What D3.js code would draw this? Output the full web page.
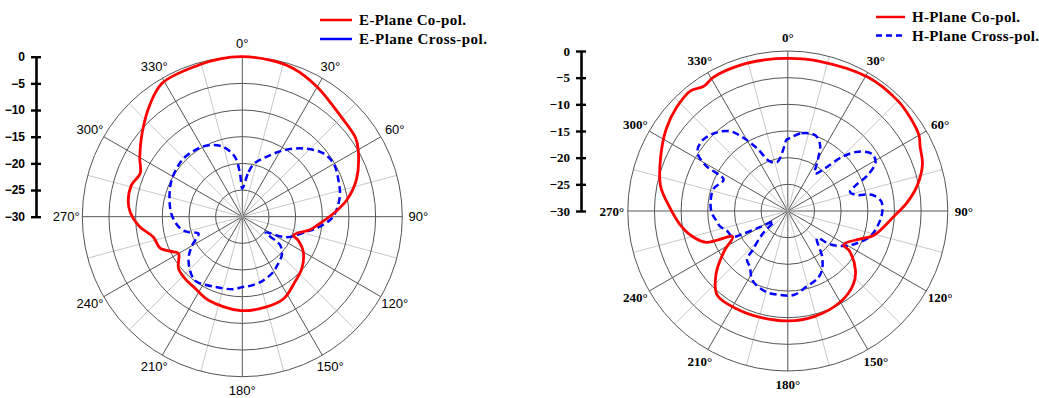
<!DOCTYPE html>
<html>
<head>
<meta charset="utf-8">
<script src="https://cdn.jsdelivr.net/npm/d3@7"></script>
<style>
  body { margin: 0; background: #fff; }
  svg { display: block; }
</style>
</head>
<body>
<svg id="chart"></svg>
<script>
// angles in degrees (clockwise from top), values in dB
const eCoAng = [0, 10, 19, 30, 44, 55, 60, 72, 81, 88, 97, 101, 110, 113, 120, 131, 141, 153, 165, 181, 202, 213, 223, 231, 240, 243, 249, 257, 265, 272, 278, 286, 293, 300, 310, 320, 329, 344, 352];
const eCoDb = [0, -0.2, -0.6, -1.9, -3.6, -4.1, -4.9, -7.5, -10.2, -12.9, -16, -17.1, -19.8, -18.6, -16.8, -15.2, -14.3, -12.8, -12.5, -12.4, -13.1, -13.9, -14.2, -14.6, -16.2, -15.5, -13.5, -12.9, -10.5, -9.0, -8.4, -8.4, -9.2, -7.8, -5.5, -2.9, -0.8, -0.4, -0.1];

const eXAng = [0, 8, 13, 22, 32, 42, 52, 60, 69, 78, 88, 92, 98, 103, 115, 124, 127, 134, 146, 151, 162, 172, 180, 187, 201, 215, 221, 232, 240, 249, 254, 259, 271, 283, 297, 313, 325, 335, 344, 353, 357];
const eXDb = [-24.7, -21.5, -19.7, -17.9, -15.3, -12.8, -10.7, -10.2, -10.7, -11.3, -12.6, -13.5, -15.6, -17.6, -20.9, -24.7, -21.1, -19.7, -18.6, -18.1, -17.4, -17, -16.8, -16.3, -15.9, -15.1, -15.5, -17.2, -19.1, -21.2, -19.5, -18.2, -16.8, -16.0, -15.1, -14.5, -14.7, -15.2, -16.3, -18.7, -22];

const hCoAng = [0, 12, 31, 45, 52, 60, 64, 71, 79, 86, 93, 106, 111, 121, 123, 131, 138, 150, 166, 180, 195, 208, 220, 229, 238, 245, 249, 255, 263, 272, 281, 293, 304, 313, 321, 326, 331, 342, 352];
const hCoDb = [-1.4, -1.3, -0.75, -0.8, -1.1, -1.6, -2.4, -3.3, -5.3, -7.6, -10.1, -13.3, -15.4, -17.8, -16.2, -13.2, -11.6, -10.3, -9.6, -9.4, -9.4, -9.3, -9.4, -12.2, -16, -18.6, -13.6, -11.5, -9.6, -7.8, -5.7, -4.1, -2.5, -1.5, -1.0, -1.8, -1.3, -1.25, -1.35];

const hXAng = [0, 10, 20, 26, 30, 36, 41, 45, 50, 56, 61, 66, 69, 73, 77, 79, 84, 91, 98, 107, 115, 122, 128, 133, 143, 150, 156, 166, 176, 185, 195, 207, 214, 220, 222, 228, 233, 240, 243, 245, 253, 257, 263, 269, 278, 287, 296, 299, 303, 309, 317, 324, 329, 334, 340, 348, 355, 359];
const hXDb = [-16.5, -15.2, -14.9, -16.2, -18.6, -21.3, -19.4, -15.7, -12.7, -10.9, -11.2, -13.7, -16.2, -17.8, -16.7, -14, -12.4, -12.3, -12.8, -13.8, -15.7, -17.6, -19.8, -22.5, -19.3, -17.2, -16.2, -15.4, -14.2, -14.2, -14.3, -15.4, -17.3, -18.1, -20.1, -23.7, -26.7, -23.9, -20.6, -18.6, -17.9, -17, -16.4, -15.7, -15.4, -15.5, -16.6, -12.4, -9.8, -9.2, -10, -11.5, -14.1, -17, -20.1, -20.6, -18.8, -16.6];

const ringDb = [-25, -20, -15, -10, -5, 0];
const spokeAngles = d3.range(0, 360, 15);
const angleLabels = d3.range(0, 360, 30);
const scaleTicks = [0, -5, -10, -15, -20, -25, -30];

const width = 1039;
const height = 398;
const R = 160;

const svg = d3.select("#chart")
    .attr("width", width)
    .attr("height", height);

const rScale = d3.scaleLinear().domain([-30, 0]).range([0, R]);
const rad = a => a * Math.PI / 180;

function zip(angs, vals) {
    return angs.map((a, i) => ({ a: a, v: vals[i] }));
}

function drawPolar(p) {
    const g = svg.append("g").attr("transform", `translate(${p.cx},${p.cy})`);

    // spokes, light every 15, dark every 30
    g.selectAll(".spoke")
        .data(spokeAngles)
        .enter()
        .append("line")
        .attr("x1", 0).attr("y1", 0)
        .attr("x2", d => R * Math.sin(rad(d)))
        .attr("y2", d => -R * Math.cos(rad(d)))
        .attr("stroke", d => d % 30 === 0 ? "#555" : "#c8c8c8")
        .attr("stroke-width", 1);

    // rings
    g.selectAll(".ring")
        .data(ringDb)
        .enter()
        .append("circle")
        .attr("r", d => rScale(d))
        .attr("fill", "none")
        .attr("stroke", "#555")
        .attr("stroke-width", 1);

    // angle labels
    g.selectAll(".alabel")
        .data(angleLabels)
        .enter()
        .append("text")
        .attr("x", d => 176 * Math.sin(rad(d)))
        .attr("y", d => -173.5 * Math.cos(rad(d)))
        .attr("text-anchor", "middle")
        .attr("dominant-baseline", "central")
        .attr("font-family", p.font)
        .attr("font-weight", p.labelWeight)
        .attr("font-size", 13)
        .text(d => d + "°");

    const line = d3.lineRadial()
        .angle(d => rad(d.a))
        .radius(d => rScale(d.v))
        .curve(d3.curveCatmullRomClosed.alpha(0.5));

    g.append("path")
        .datum(zip(p.xAng, p.xDb))
        .attr("d", line)
        .attr("fill", "none")
        .attr("stroke", "#0000ff")
        .attr("stroke-width", 2.5)
        .attr("stroke-dasharray", "7,4");

    g.append("path")
        .datum(zip(p.coAng, p.coDb))
        .attr("d", line)
        .attr("fill", "none")
        .attr("stroke", "#ff0000")
        .attr("stroke-width", 2.8);

    // dB scale bar
    const y = d3.scaleLinear().domain([-30, 0]).range([p.cy, p.cy - R]);
    const bar = svg.append("g").attr("transform", `translate(${p.barX},0)`);
    bar.call(d3.axisLeft(y).tickValues(scaleTicks).tickSize(0).tickSizeOuter(0).tickPadding(11));
    bar.select(".domain").attr("stroke", "#000").attr("stroke-width", 2.6);
    bar.selectAll(".tick line")
        .attr("x1", -5).attr("x2", 5)
        .attr("stroke", "#000").attr("stroke-width", 2.4);
    bar.selectAll(".tick text")
        .attr("font-family", p.font)
        .attr("font-weight", "bold")
        .attr("font-size", p.scaleSize)
        .attr("fill", "#000");

    // legend
    const lg = svg.append("g");
    const items = [
        { label: p.names[0], color: "#ff0000", dash: null, y: p.legY, w: p.legW[0] },
        { label: p.names[1], color: "#0000ff", dash: p.legDash, y: p.legY + p.legGap, w: p.legW[1] }
    ];
    items.forEach(it => {
        lg.append("line")
            .attr("x1", p.legX).attr("x2", p.legX + p.legLen)
            .attr("y1", it.y).attr("y2", it.y)
            .attr("stroke", it.color)
            .attr("stroke-width", 2.5)
            .attr("stroke-dasharray", it.dash);
        lg.append("text")
            .attr("x", p.legX + p.legLen + 7)
            .attr("y", it.y)
            .attr("dominant-baseline", "central")
            .attr("font-family", "'Liberation Serif', 'Times New Roman', serif")
            .attr("font-weight", "bold")
            .attr("font-size", 15)
            .attr("textLength", it.w)
            .attr("lengthAdjust", "spacing")
            .text(it.label);
    });
}

drawPolar({
    cx: 242.3, cy: 216.7, barX: 36,
    font: "'Liberation Sans', Arial, sans-serif", labelWeight: "normal", scaleSize: 12,
    coAng: eCoAng, coDb: eCoDb, xAng: eXAng, xDb: eXDb,
    names: ["E-Plane Co-pol.", "E-Plane Cross-pol."],
    legX: 320, legLen: 32, legY: 20, legGap: 19, legDash: null, legW: [107, 128]
});

drawPolar({
    cx: 787.8, cy: 211, barX: 581,
    font: "'Liberation Serif', 'Times New Roman', serif", labelWeight: "bold", scaleSize: 13,
    coAng: hCoAng, coDb: hCoDb, xAng: hXAng, xDb: hXDb,
    names: ["H-Plane Co-pol.", "H-Plane Cross-pol."],
    legX: 876, legLen: 29, legY: 17, legGap: 18.5, legDash: "6,4", legW: [108, 127]
});
</script>
</body>
</html>
